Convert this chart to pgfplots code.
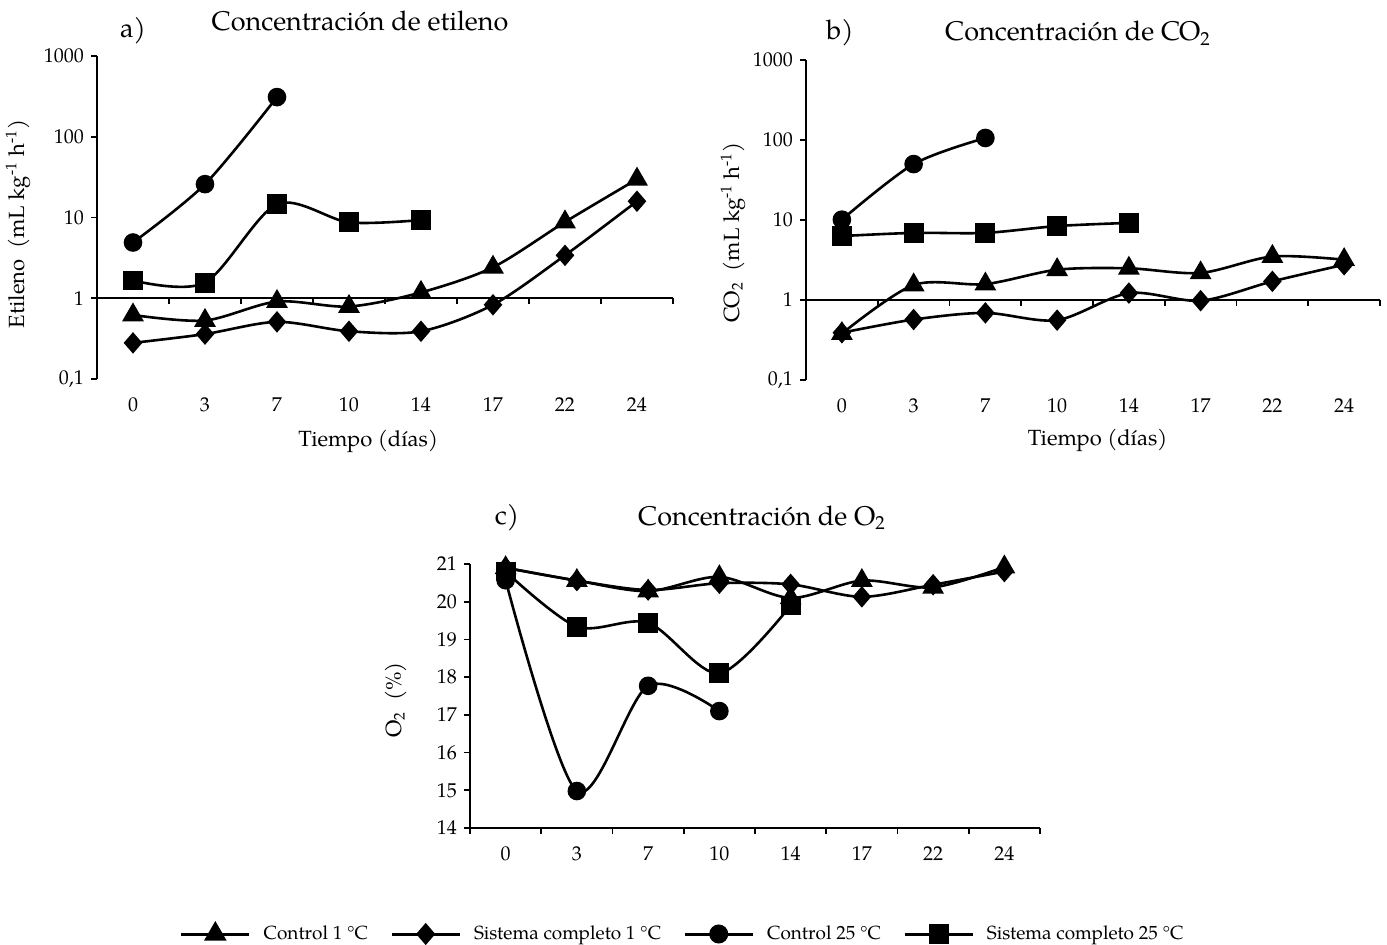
\documentclass[border=0pt]{standalone}
\usepackage{fontspec}
\setmainfont{TeX Gyre Pagella}
\usepackage{pgfplots}
\pgfplotsset{compat=1.18}

\pgfplotsset{
  mybase/.style={
    scale only axis,
    xmin=-0.5, xmax=7.5,
    xtick={0,1,2,3,4,5,6,7},
    xticklabels={0,3,7,10,14,17,22,24},
    tick label style={font=\fontsize{10}{12}\selectfont},
    label style={font=\fontsize{11}{13}\selectfont},
    /pgf/number format/assume math mode=true,
    axis y line*=left,
    axis x line*=bottom,
    tick align=outside,
    major tick length=3pt,
    minor tick length=3pt,
    axis line style={line width=0.8pt},
    every tick/.append style={line width=0.8pt, black},
    major x tick style={draw=none},
    xticklabel style={yshift=-3pt},
    clip=false,
    every axis plot/.append style={black, line width=1.3pt, smooth, tension=0.5, mark options={solid}},
  },
  mylog/.style={
    ymin=0.1, ymax=1000,
    ytick={0.1,1,10,100,1000},
    yticklabels={{0,1},1,10,100,1000},
    yminorticks=false,
    x axis line style={draw=none},
  },
  mtri/.style={mark=triangle*, mark size=5pt},
  mdia/.style={mark=diamond*, mark size=4.4pt, mark options={solid, xscale=1.15}},
  mcir/.style={mark=*, mark size=4pt},
  msqu/.style={mark=square*, mark size=4.3pt},
}

\begin{document}
\begin{tikzpicture}
\path[use as bounding box] (0pt,0pt) rectangle (693.5pt,472pt);

% ---------- Panel a ----------
\begin{semilogyaxis}[mybase, mylog,
  at={(48.5pt,282.5pt)}, anchor=south west,
  width=288pt, height=161.5pt,
  xlabel={Tiempo (días)},
  xlabel style={at={(axis description cs:0.471,-0.192)}, anchor=center},
  ylabel={Etileno~ (mL kg\textsuperscript{-1} h\textsuperscript{-1})},
  ylabel style={at={(axis description cs:-0.137,0.48)}, anchor=center},
]
\addplot[mtri] coordinates {(0,0.62) (1,0.53) (2,0.91) (3,0.79) (4,1.18) (5,2.42) (6,8.8) (7,29.8)};
\addplot[mdia] coordinates {(0,0.28) (1,0.36) (2,0.51) (3,0.39) (4,0.39) (5,0.83) (6,3.4) (7,15.9)};
\addplot[mcir] coordinates {(0,4.9) (1,25.9) (2,310)};
\addplot[msqu] coordinates {(0,1.66) (1,1.56) (2,14.6) (3,8.7) (4,9.3)};
\draw[line width=0.8pt] (axis cs:-0.5,1) -- (axis cs:7.5,1);
\pgfplotsinvokeforeach{-0.5,0.5,1.5,2.5,3.5,4.5,5.5,6.5,7.5}{\draw[line width=0.8pt] (axis cs:#1,1) -- ++(0pt,-3pt);}
\end{semilogyaxis}

% ---------- Panel b ----------
\begin{semilogyaxis}[mybase, mylog,
  at={(403pt,282pt)}, anchor=south west,
  width=287pt, height=160pt,
  xlabel={Tiempo (días)},
  xlabel style={at={(axis description cs:0.508,-0.19)}, anchor=center},
  ylabel={CO\textsubscript{2}~ (mL kg\textsuperscript{-1} h\textsuperscript{-1})},
  ylabel style={at={(axis description cs:-0.127,0.46)}, anchor=center},
]
\addplot[mtri] coordinates {(0,0.38) (1,1.54) (2,1.58) (3,2.39) (4,2.49) (5,2.18) (6,3.5) (7,3.19)};
\addplot[mdia] coordinates {(0,0.39) (1,0.57) (2,0.69) (3,0.56) (4,1.22) (5,0.98) (6,1.71) (7,2.76)};
\addplot[mcir] coordinates {(0,10.1) (1,50) (2,106)};
\addplot[msqu] coordinates {(0,6.3) (1,6.9) (2,6.9) (3,8.4) (4,9.2)};
\draw[line width=0.8pt] (axis cs:-0.5,1) -- (axis cs:7.5,1);
\pgfplotsinvokeforeach{-0.5,0.5,1.5,2.5,3.5,4.5,5.5,6.5,7.5}{\draw[line width=0.8pt] (axis cs:#1,1) -- ++(0pt,-3pt);}
\end{semilogyaxis}

% ---------- Panel c ----------
\begin{axis}[mybase,
  at={(235pt,58pt)}, anchor=south west,
  width=285pt, height=132pt,
  ymin=14, ymax=21,
  ytick={14,15,16,17,18,19,20,21},
  minor xtick={-0.5,0.5,1.5,2.5,3.5,4.5,5.5,6.5,7.5},
  ylabel={O\textsubscript{2}~ (\%)},
  ylabel style={at={(axis description cs:-0.13,0.485)}, anchor=center},
  legend columns=4,
  legend style={draw=none, fill=none, at={(axis description cs:0.375,-0.4015)}, anchor=center,
    font=\fontsize{9.5}{11}\selectfont,
    /tikz/every even column/.append style={column sep=9pt}},
  legend image code/.code={\draw[mark repeat=2,mark phase=2,black,line width=1.5pt,#1] plot coordinates {(0pt,0pt) (17pt,0pt) (34pt,0pt)}; \path (38.5pt,0pt);},
]
\addplot[mtri] coordinates {(0,20.9) (1,20.56) (2,20.28) (3,20.66) (4,20.1) (5,20.56) (6,20.38) (7,20.92)};
\addlegendentry{Control 1 °C}
\addplot[mdia] coordinates {(0,20.9) (1,20.56) (2,20.31) (3,20.49) (4,20.46) (5,20.13) (6,20.45) (7,20.8)};
\addlegendentry{Sistema completo 1 °C}
\addplot[mcir] coordinates {(0,20.57) (1,14.98) (2,17.77) (3,17.1)};
\addlegendentry{Control 25 °C}
\addplot[msqu] coordinates {(0,20.8) (1,19.34) (2,19.44) (3,18.1) (4,19.9)};
\addlegendentry{Sistema completo 25 °C}
\end{axis}

% ---------- Titles ----------
\node[anchor=base, font=\fontsize{13.5}{16}\selectfont] at (66.5pt,453pt) {a)};
\node[anchor=base, font=\fontsize{13.5}{16}\selectfont] at (180pt,456.5pt) {Concentración de etileno};
\node[anchor=base, font=\fontsize{13.5}{16}\selectfont] at (420pt,452pt) {b)};
\node[anchor=base, font=\fontsize{13.5}{16}\selectfont] at (539pt,451.5pt) {Concentración de CO\textsubscript{2}};
\node[anchor=base, font=\fontsize{13.5}{16}\selectfont] at (253.5pt,210pt) {c)};
\node[anchor=base, font=\fontsize{13.5}{16}\selectfont] at (381pt,209.5pt) {Concentración de O\textsubscript{2}};
\end{tikzpicture}
\end{document}
